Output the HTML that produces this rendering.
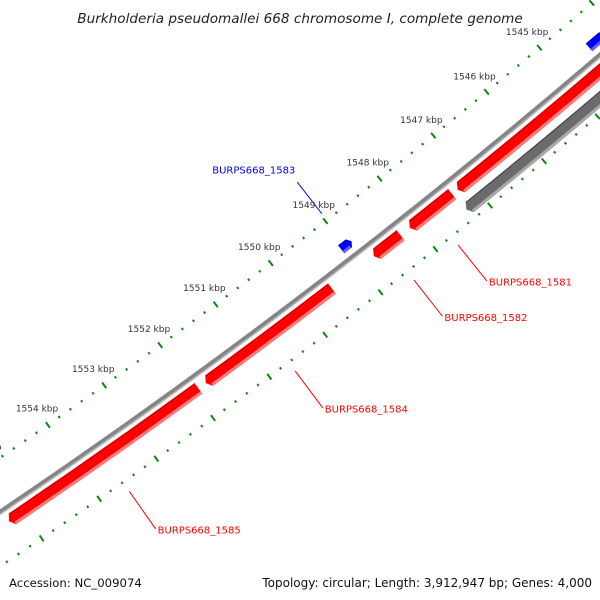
<!DOCTYPE html>
<html><head><meta charset="utf-8"><title>Genome map</title>
<style>html,body{margin:0;padding:0;background:#fff;width:600px;height:600px;overflow:hidden;}svg{display:block;}</style></head>
<body>
<svg id="map" width="600" height="600" viewBox="0 0 600 600" xmlns="http://www.w3.org/2000/svg" font-family="'DejaVu Sans','Liberation Sans',sans-serif">
<rect x="0" y="0" width="600" height="600" fill="#ffffff"/>
<g id="layer"></g>
<text x="300" y="23" text-anchor="middle" font-size="13.6" font-style="italic" fill="#222">Burkholderia pseudomallei 668 chromosome I, complete genome</text>
<text x="9" y="587" font-size="11.7" fill="#111">Accession: NC_009074</text>
<text x="592" y="587" text-anchor="end" font-size="12" fill="#111">Topology: circular; Length: 3,912,947 bp; Genes: 4,000</text>
</svg>
<script>
// data
const featNames = ["BURPS668_1585","BURPS668_1584","BURPS668_1582","BURPS668_1581","","","BURPS668_1583",""];
const featStart = [1551.92,1549.52,1548.27,1547.32,1540.0,1540.0,1548.88,1544.15];
const featEnd   = [1555.25,1551.79,1548.76,1548.10,1547.22,1547.30,1549.07,1544.45];
const featTrack = ["rev","rev","rev","rev","rev","other","fwd","fwd"];
const tickFrom = 1538, tickTo = 1562, minorStep = 0.2;

// geometry
const CX = -3669, CY = -4927;
const R_BACK = 6561, R_OUT_TICK = 6516, R_IN_TICK = 6606, R_LABEL = 6497;
const tracks = {rev:[6567,6580,"#ff0000","#ff7a7a","#c80000"], other:[6588,6601,"#6b6b6b","#a8a8a8","#4a4a4a"], fwd:[6543,6553,"#0000ff","#6060ff","#0000b0"]};
const NS = "http://www.w3.org/2000/svg";
const layer = document.getElementById('layer');
function ang(k){ return (49.77 + (k-1545)*0.6056) * Math.PI/180; }
function pt(r,k){ const a=ang(k); return [CX + r*Math.cos(a), CY + r*Math.sin(a)]; }
function f(p){ return p[0].toFixed(2)+","+p[1].toFixed(2); }
function mk(tag, attrs){ const e=document.createElementNS(NS,tag); for(const k in attrs) e.setAttribute(k,attrs[k]); layer.appendChild(e); return e; }
function arcPath(r,k1,k2){ return "M"+f(pt(r,k1))+" A"+r+","+r+" 0 0 1 "+f(pt(r,k2)); }

// backbone
let e = mk('path',{d:arcPath(R_BACK,1538,1562),fill:"none",stroke:"#858585","stroke-width":5});


e = mk('path',{d:arcPath(R_BACK+1.8,1538,1562),fill:"none",stroke:"#bdbdbd","stroke-width":1.4});



// features
const tipK = 0.06;
for(let i=0;i<featStart.length;i++){
  const t = tracks[featTrack[i]];
  const rin=t[0], rout=t[1], rm=(rin+rout)/2;
  const k1=featStart[i], k2=featEnd[i];
  let d;
  if(featTrack[i]==="fwd"){
    const kb=k1+tipK*0.8;
    d="M"+f(pt(rm,k1))+" L"+f(pt(rin,kb))+" A"+rin+","+rin+" 0 0 1 "+f(pt(rin,k2))+" L"+f(pt(rout,k2))+" A"+rout+","+rout+" 0 0 0 "+f(pt(rout,kb))+" Z";
  } else {
    const kb=k2-tipK;
    d="M"+f(pt(rin,k1))+" A"+rin+","+rin+" 0 0 1 "+f(pt(rin,kb))+" L"+f(pt(rm,k2))+" L"+f(pt(rout,kb))+" A"+rout+","+rout+" 0 0 0 "+f(pt(rout,k1))+" Z";
  }
  const g = mk('path',{d:d,fill:t[2]});
  
  
  const kbA = featTrack[i]==="fwd" ? k1+tipK : k1, kbB = featTrack[i]==="fwd" ? k2 : k2-tipK;
  const s1 = mk('path',{d:arcPath(rout-1.5,kbA,kbB),fill:"none",stroke:t[3],"stroke-width":3});
  
  
  const s2 = mk('path',{d:arcPath(rin+0.6,kbA,kbB),fill:"none",stroke:t[4],"stroke-width":1.2});
  
  
  if(featNames[i]){
    const km=(k1+k2)/2;
    let a,b,tx,ty,anchor,col;
    if(featTrack[i]==="fwd"){ a=pt(6508,km); b=pt(6468,km); tx=b[0]-2; ty=b[1]-11; anchor="end"; col="#0000ff"; }
    else { a=pt(6617,km); b=pt(6663,km); tx=b[0]+2; ty=b[1]+2; anchor="start"; col="#ff0000"; }
    const ln = mk('line',{x1:a[0],y1:a[1],x2:b[0],y2:b[1],stroke:col,"stroke-width":1});
    
    
    const tx_ = mk('text',{x:tx,y:ty,"text-anchor":anchor,"dominant-baseline":"central","font-size":"10",fill:col});
    tx_.textContent=featNames[i];
    
    
  }
}

// ticks
const nSteps = Math.round((tickTo-tickFrom)/minorStep);
for(let j=0;j<=nSteps;j++){
  const k = tickFrom + j*minorStep;
  const major = Math.abs(k-Math.round(k))<1e-6;
  [R_OUT_TICK,R_IN_TICK].forEach(function(r){
    const a = pt(r-(major?3.5:1.2),k), b = pt(r+(major?3.5:1.2),k);
    const l = mk('line',{x1:a[0],y1:a[1],x2:b[0],y2:b[1],stroke:"#0a8a0a","stroke-width":2});
    
    
  });
  if(major){
    const p = pt(R_LABEL,k);
    const t = mk('text',{x:p[0],y:p[1],"text-anchor":"middle","dominant-baseline":"central","font-size":"9",fill:"#333"});
    t.textContent = Math.round(k)+" kbp";
    
    
  }
}
</script>
</body></html>
